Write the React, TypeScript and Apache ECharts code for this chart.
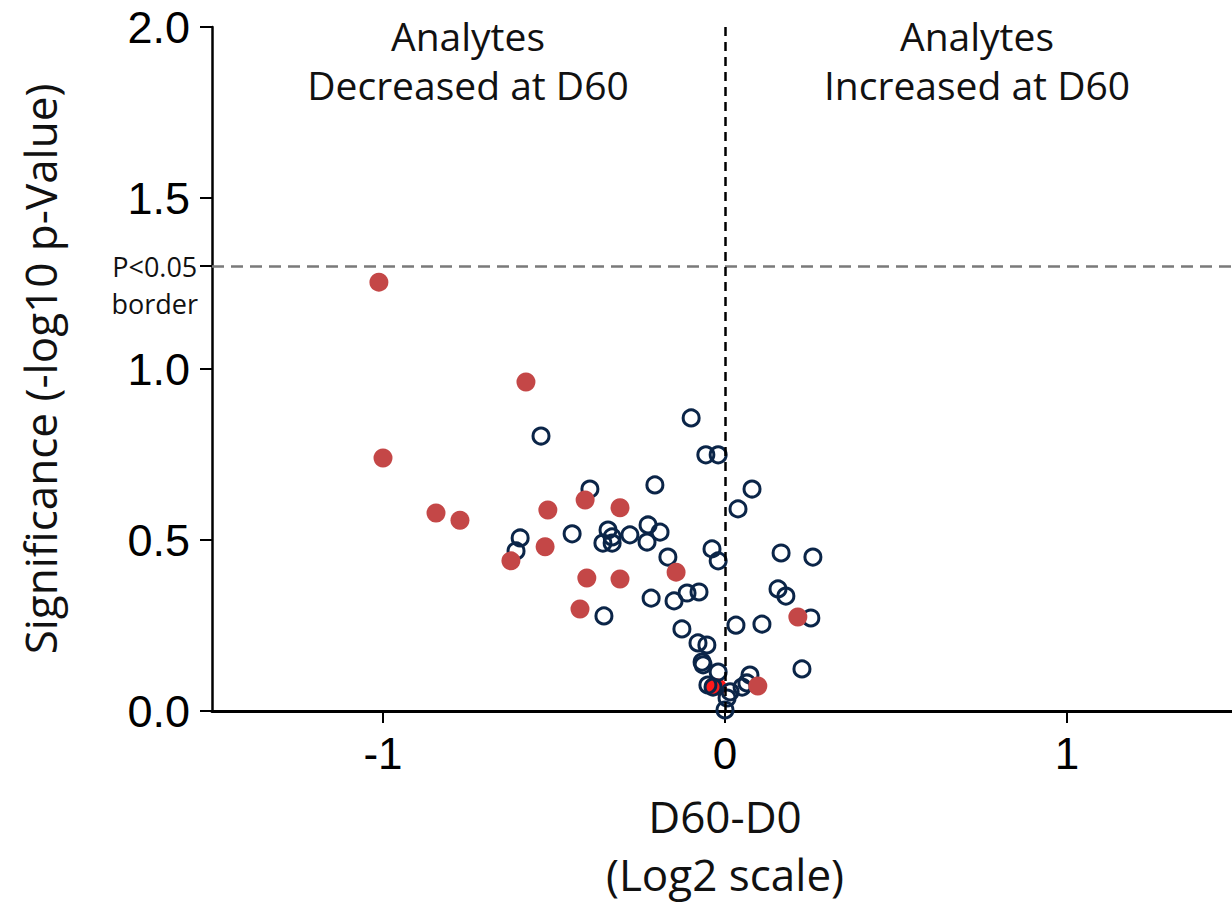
import React, { useEffect, useRef } from "react";
import * as echarts from "echarts";

// Filled red analytes [log2 change, -log10 p]
const redPoints: number[][] = [
  [-1.012, 1.254], [-0.582, 0.962], [-1.0, 0.74], [-0.845, 0.579], [-0.775, 0.558],
  [-0.518, 0.588], [-0.409, 0.617], [-0.307, 0.594], [-0.526, 0.48], [-0.626, 0.439],
  [-0.404, 0.389], [-0.307, 0.386], [-0.424, 0.298], [-0.143, 0.406], [0.213, 0.275],
  [0.096, 0.073],
];
// Bright red analytes near origin
const brightRedPoints: number[][] = [[-0.035, 0.073], [-0.02, 0.07]];
// Hollow navy analytes
const navyPoints: number[][] = [
  [-0.538, 0.804], [-0.099, 0.857], [-0.056, 0.749], [-0.02, 0.749], [-0.395, 0.649],
  [-0.205, 0.661], [0.079, 0.649], [0.038, 0.591], [-0.599, 0.506], [-0.611, 0.468],
  [-0.447, 0.518], [-0.342, 0.529], [-0.33, 0.509], [-0.357, 0.491], [-0.33, 0.491],
  [-0.278, 0.515], [-0.225, 0.544], [-0.228, 0.494], [-0.19, 0.523], [-0.167, 0.45],
  [-0.038, 0.474], [-0.02, 0.439], [0.164, 0.462], [0.257, 0.45], [-0.216, 0.33],
  [-0.149, 0.322], [-0.111, 0.345], [-0.076, 0.348], [-0.354, 0.278], [-0.126, 0.24],
  [0.155, 0.357], [0.178, 0.336], [0.032, 0.251], [0.108, 0.254], [0.251, 0.272],
  [-0.079, 0.199], [-0.053, 0.193], [-0.067, 0.143], [-0.064, 0.135], [-0.02, 0.114],
  [0.225, 0.123], [-0.05, 0.076], [-0.035, 0.07], [0.015, 0.056], [0.006, 0.038],
  [0.0, 0.003], [0.05, 0.07], [0.064, 0.082], [0.073, 0.105],
];

const xTicks = [-1, 0, 1];
const yTicks = [0, 0.5, 1.0, 1.301, 1.5, 2.0];
const P_THRESHOLD = 1.301;

const SANS = "'Open Sans', 'Noto Sans', sans-serif";
const ARIAL = "'Liberation Sans', Arial, sans-serif";

function titleText(x: number, y: number, text: string) {
  return {
    type: "text",
    x,
    y,
    style: {
      text,
      fontFamily: SANS,
      fontSize: 39,
      fill: "#111",
      align: "center",
      verticalAlign: "middle",
    },
  };
}

export default function App() {
  const ref = useRef<HTMLDivElement>(null);
  useEffect(() => {
    if (!ref.current) return;
    const chart = echarts.init(ref.current, null, { renderer: "svg" });
    chart.setOption({
      animation: false,
      backgroundColor: "#ffffff",
      grid: {
        left: 212,
        top: 27,
        width: 1026,
        height: 684,
        containLabel: false,
        outerBoundsMode: "none",
      },
      xAxis: {
        type: "value",
        min: -1.5,
        max: 1.5,
        name: "D60-D0\n(Log2 scale)",
        nameLocation: "middle",
        nameGap: 76,
        nameTextStyle: { fontFamily: SANS, fontSize: 44, color: "#111", lineHeight: 58 },
        axisLine: { show: true, onZero: false, lineStyle: { color: "#000", width: 3 } },
        axisTick: { show: true, length: 12, customValues: xTicks, lineStyle: { color: "#000", width: 2 } },
        axisLabel: {
          customValues: xTicks,
          margin: 20,
          fontFamily: ARIAL,
          fontSize: 44,
          color: "#000",
          formatter: (v: number) => String(v),
        },
        splitLine: { show: false },
      },
      yAxis: {
        type: "value",
        min: 0,
        max: 2,
        name: "Significance (-log10 p-Value)",
        nameLocation: "middle",
        nameGap: 150,
        nameTextStyle: { fontFamily: SANS, fontSize: 44, color: "#111" },
        axisLine: { show: true, onZero: false, lineStyle: { color: "#000", width: 2.5 } },
        axisTick: { show: true, length: 12, customValues: yTicks, lineStyle: { color: "#000", width: 2 } },
        axisLabel: {
          customValues: yTicks,
          margin: 14,
          color: "#000",
          formatter: (v: number) =>
            Math.abs(v - P_THRESHOLD) < 1e-6
              ? "{e|}\n{p|P<0.05}\n{p|border}"
              : "{n|" + v.toFixed(1) + "}",
          rich: {
            n: { fontFamily: ARIAL, fontSize: 45, lineHeight: 30, color: "#000", padding: [0, 8, 0, 0] },
            p: { fontFamily: SANS, fontSize: 27, lineHeight: 37, color: "#111", align: "center" },
            e: { fontSize: 27, lineHeight: 37 },
          },
        },
        splitLine: { show: false },
      },
      series: [
        {
          type: "scatter",
          name: "bright",
          data: brightRedPoints,
          symbol: "circle",
          symbolSize: 17,
          itemStyle: { color: "#ff1a1a", opacity: 1 },
          z: 2,
          markLine: {
            silent: true,
            symbol: "none",
            label: { show: false },
            data: [
              { yAxis: P_THRESHOLD, lineStyle: { color: "#7a7a7a", width: 2.5, type: [12, 7] } },
              { xAxis: 0, lineStyle: { color: "#000", width: 2.5, type: [9, 6] } },
            ],
          },
        },
        {
          type: "scatter",
          name: "navy",
          data: navyPoints,
          symbol: "circle",
          symbolSize: 16,
          itemStyle: { color: "rgba(255,255,255,0)", borderColor: "#0b2548", borderWidth: 3, opacity: 1 },
          z: 3,
        },
        {
          type: "scatter",
          name: "red",
          data: redPoints,
          symbol: "circle",
          symbolSize: 19,
          itemStyle: { color: "#c44747", opacity: 1 },
          z: 4,
        },
      ],
      graphic: [
        titleText(468, 35, "Analytes"),
        titleText(468, 84, "Decreased at D60"),
        titleText(977, 35, "Analytes"),
        titleText(977, 84, "Increased at D60"),
      ],
    });
    return () => chart.dispose();
  }, []);
  return (
    <div style={{ position: "fixed", left: 0, top: 0, width: 1232, height: 907, overflow: "hidden", background: "#fff" }}>
      <div ref={ref} style={{ width: 1242, height: 907 }} />
    </div>
  );
}
